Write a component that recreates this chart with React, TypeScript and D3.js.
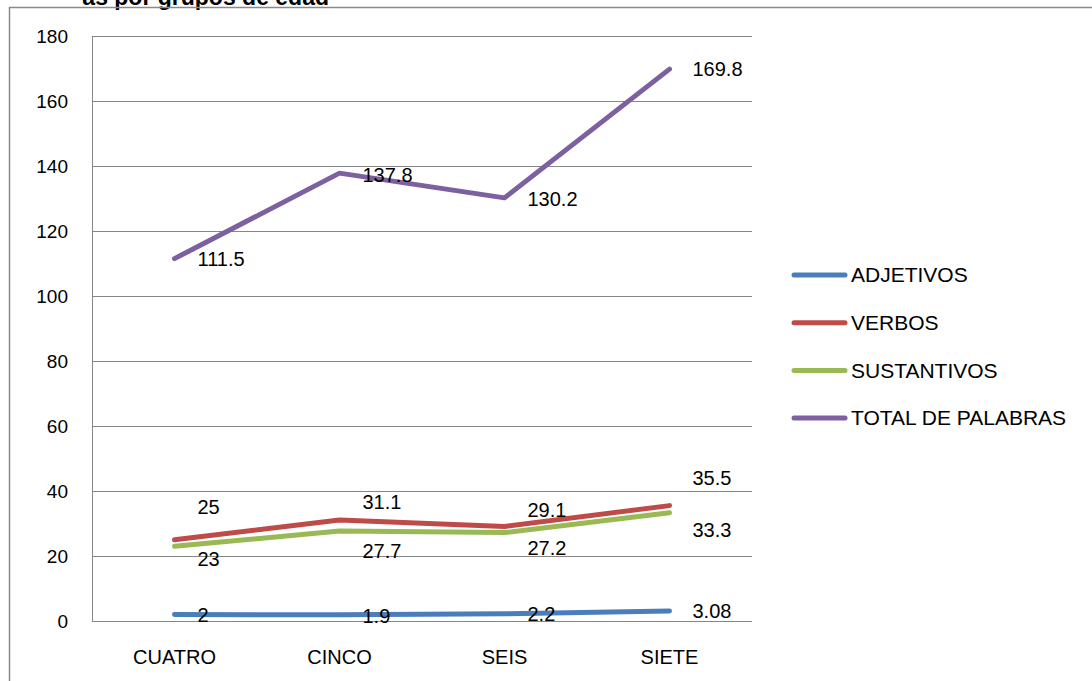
import React, { useEffect, useRef } from 'react';
import * as d3 from 'd3';

const categories = ['CUATRO', 'CINCO', 'SEIS', 'SIETE'];
const adjetivos = [2, 1.9, 2.2, 3.08];
const verbos = [25, 31.1, 29.1, 35.5];
const sustantivos = [23, 27.7, 27.2, 33.3];
const totalPalabras = [111.5, 137.8, 130.2, 169.8];
const yTicks = [0, 20, 40, 60, 80, 100, 120, 140, 160, 180];

// vertical nudges of the data labels, as in the original sheet
const adjetivosLabelDy = [0, 1, 0, 0];
const verbosLabelDy = [-33, -18, -16, -28];
const sustantivosLabelDy = [13, 20, 15, 17];
const totalLabelDy = [0, 2, 1, 0];

const series = [
  { name: 'ADJETIVOS', values: adjetivos, color: '#4A7EBB', dy: adjetivosLabelDy },
  { name: 'VERBOS', values: verbos, color: '#BE4B48', dy: verbosLabelDy },
  { name: 'SUSTANTIVOS', values: sustantivos, color: '#98B954', dy: sustantivosLabelDy },
  { name: 'TOTAL DE PALABRAS', values: totalPalabras, color: '#7D60A0', dy: totalLabelDy },
];

const FONT = '"Liberation Sans", Arial, sans-serif';

const App: React.FC = () => {
  const svgRef = useRef<SVGSVGElement>(null);

  useEffect(() => {
    if (!svgRef.current) return;
    const svg = d3.select(svgRef.current);
    svg.selectAll('*').remove();

    const W = 1092;
    const H = 681;
    const plot = { left: 92, right: 752, top: 36, bottom: 621 };

    svg.append('rect').attr('width', W).attr('height', H).attr('fill', '#fff');

    // title, cut off at the top of the picture as in the source
    svg.append('text')
      .attr('x', 329)
      .attr('y', 5)
      .attr('text-anchor', 'end')
      .attr('font-family', FONT)
      .attr('font-weight', 'bold')
      .attr('font-size', 23)
      .text('as por grupos de edad');

    // chart frame
    svg.append('path')
      .attr('d', `M9.5,${H} L9.5,7.5 L${W},7.5`)
      .attr('fill', 'none')
      .attr('stroke', '#8a8a8a')
      .attr('stroke-width', 1.5);

    const x = d3.scaleBand<string>()
      .domain(categories)
      .range([plot.left, plot.right]);

    const y = d3.scaleLinear()
      .domain([0, 180])
      .range([plot.bottom, plot.top]);

    const cx = (c: string) => (x(c) ?? 0) + x.bandwidth() / 2;

    // gridlines
    svg.append('g')
      .selectAll('line')
      .data(yTicks.filter(t => t > 0))
      .enter()
      .append('line')
      .attr('x1', plot.left)
      .attr('x2', plot.right)
      .attr('y1', d => Math.round(y(d)) + 0.5)
      .attr('y2', d => Math.round(y(d)) + 0.5)
      .attr('stroke', '#868686')
      .attr('stroke-width', 1);

    // axes
    svg.append('line')
      .attr('x1', plot.left + 0.5).attr('x2', plot.left + 0.5)
      .attr('y1', plot.top).attr('y2', plot.bottom)
      .attr('stroke', '#868686');
    svg.append('line')
      .attr('x1', plot.left).attr('x2', plot.right)
      .attr('y1', plot.bottom + 0.5).attr('y2', plot.bottom + 0.5)
      .attr('stroke', '#868686');

    svg.append('g')
      .selectAll('text')
      .data(yTicks)
      .enter()
      .append('text')
      .attr('x', 68)
      .attr('y', d => y(d))
      .attr('dy', '0.35em')
      .attr('text-anchor', 'end')
      .attr('font-family', FONT)
      .attr('font-size', 19)
      .attr('fill', '#000')
      .text(d => d);

    svg.append('g')
      .selectAll('text')
      .data(categories)
      .enter()
      .append('text')
      .attr('x', d => cx(d))
      .attr('y', 657)
      .attr('dy', '0.35em')
      .attr('text-anchor', 'middle')
      .attr('font-family', FONT)
      .attr('font-size', 20)
      .text(d => d);

    const line = d3.line<number>()
      .x((_, i) => cx(categories[i]))
      .y(d => y(d));

    series.forEach(s => {
      svg.append('path')
        .datum(s.values)
        .attr('d', line)
        .attr('fill', 'none')
        .attr('stroke', s.color)
        .attr('stroke-width', 5)
        .attr('stroke-linecap', 'round')
        .attr('stroke-linejoin', 'round');
    });

    series.forEach(s => {
      svg.append('g')
        .selectAll('text')
        .data(s.values)
        .enter()
        .append('text')
        .attr('x', (_, i) => cx(categories[i]) + 23)
        .attr('y', (d, i) => y(d) + s.dy[i])
        .attr('dy', '0.35em')
        .attr('font-family', FONT)
        .attr('font-size', 20)
        .text(d => String(d));
    });

    // legend
    const legend = svg.append('g');
    series.forEach((s, i) => {
      const ly = 275 + i * 47.7;
      legend.append('line')
        .attr('x1', 794).attr('x2', 845)
        .attr('y1', ly).attr('y2', ly)
        .attr('stroke', s.color)
        .attr('stroke-width', 5)
        .attr('stroke-linecap', 'round');
      legend.append('text')
        .attr('x', 851)
        .attr('y', ly)
        .attr('dy', '0.35em')
        .attr('font-family', FONT)
        .attr('font-size', 21)
        .text(s.name);
    });
  }, []);

  return (
    <svg
      ref={svgRef}
      width={1092}
      height={681}
      style={{ position: 'absolute', left: 0, top: 0, display: 'block' }}
    />
  );
};

export default App;
